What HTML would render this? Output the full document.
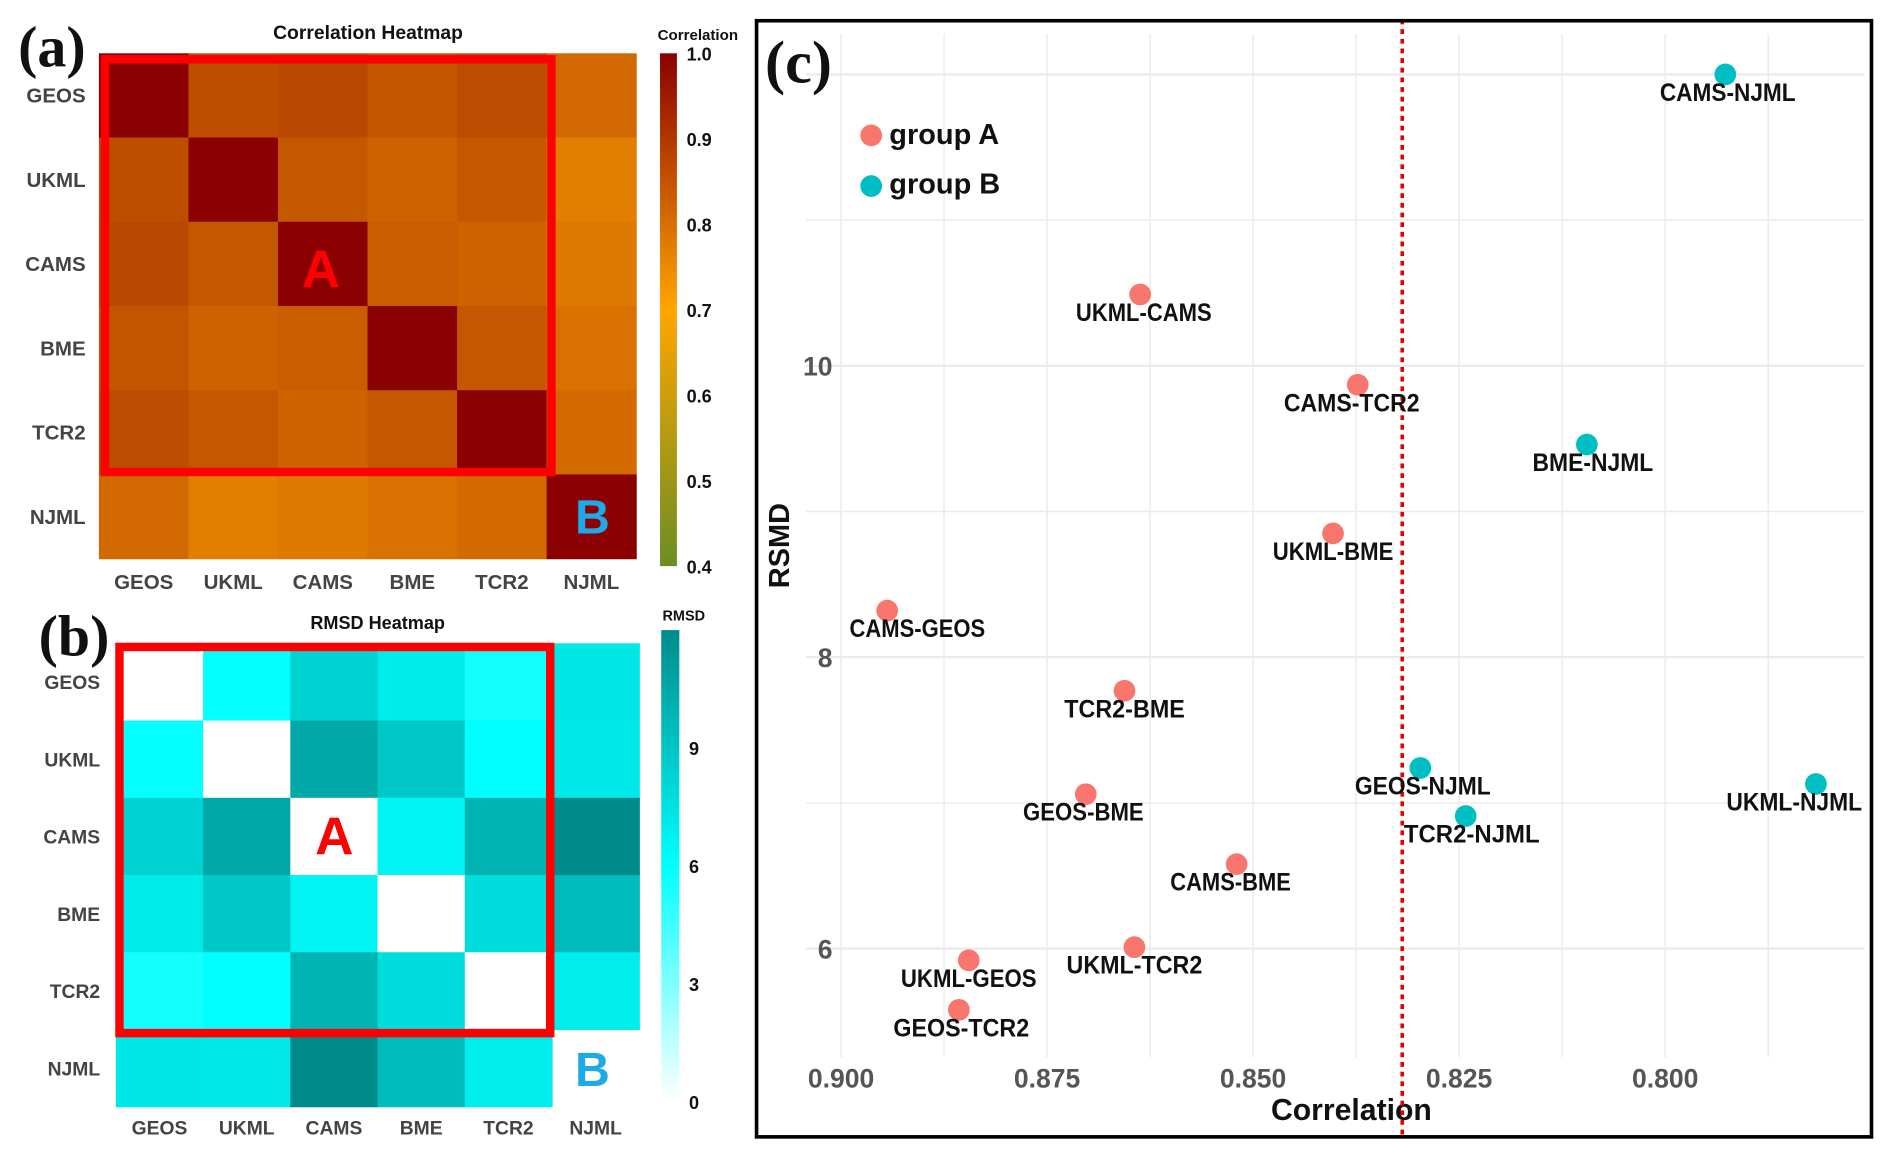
<!DOCTYPE html>
<html><head><meta charset="utf-8"><style>
html,body{margin:0;padding:0;background:#fff;}
svg{display:block;font-family:"Liberation Sans",sans-serif;}
</style></head><body>
<svg id="fig" width="1892" height="1160" viewBox="0 0 1568 961" xmlns="http://www.w3.org/2000/svg">
<defs>
<linearGradient id="corrGrad" x1="0" y1="1" x2="0" y2="0">
<stop offset="0" stop-color="#6B8E23"/><stop offset="0.5" stop-color="#FFA500"/><stop offset="1" stop-color="#8B0000"/>
</linearGradient>
<linearGradient id="rmsdGrad" x1="0" y1="1" x2="0" y2="0">
<stop offset="0" stop-color="#ffffff"/><stop offset="0.5" stop-color="#00FFFF"/><stop offset="1" stop-color="#008B8B"/>
</linearGradient>
</defs>
<g id="pa"></g>
<g id="pb"></g>
<g id="pc"></g>
</svg>
<script>
const models = ["GEOS","UKML","CAMS","BME","TCR2","NJML"];
const pairNames = ["CAMS-NJML","UKML-CAMS","CAMS-TCR2","BME-NJML","UKML-BME","CAMS-GEOS","TCR2-BME","GEOS-NJML","UKML-NJML","GEOS-BME","TCR2-NJML","CAMS-BME","UKML-TCR2","UKML-GEOS","GEOS-TCR2"];
const pairCorr = [0.7927,0.8637,0.8373,0.8095,0.8403,0.8944,0.8656,0.8297,0.7817,0.8703,0.8242,0.852,0.8644,0.8845,0.8857];
const pairRmsd = [12.0,10.49,9.87,9.46,8.85,8.32,7.77,7.24,7.13,7.06,6.91,6.58,6.01,5.92,5.58];
const pairGroup = ["B","A","A","B","A","A","A","B","B","A","B","A","A","A","A"];
const labelDx = [2,3,-5,5,0,25,0,2,-18,-2,5,-5,0,0,2];
const xTicks = [0.900,0.875,0.850,0.825,0.800];
const yTicks = [6,8,10];
const corrTicks = [0.4,0.5,0.6,0.7,0.8,0.9,1.0];
const rmsdTicks = [0,3,6,9];
const threshold = 0.8319;

const NS="http://www.w3.org/2000/svg";
function mk(parent,tag,attrs,text){const e=document.createElementNS(NS,tag);for(const k in attrs)e.setAttribute(k,attrs[k]);if(text!==undefined)e.textContent=text;parent.appendChild(e);return e;}
function lookup(a,b,arr,diag){if(a===b)return diag;const i=pairNames.findIndex(p=>p===a+"-"+b||p===b+"-"+a);return arr[i];}
function lerp(c1,c2,t){const p=h=>[1,3,5].map(i=>parseInt(h.substr(i,2),16));const a=p(c1),b=p(c2);return "rgb("+a.map((v,i)=>Math.round(v+(b[i]-v)*t)).join(",")+")";}
function corrColor(v){const t=(v-0.4)/0.6;if(t<0.5)return lerp("#6B8E23","#FFA500",t/0.5);if(t<0.97)return lerp("#FFA500","#9A2000",(t-0.5)/0.47);return "#8B0000";}
function rmsdColor(v){const t=v/12;return t<0.5?lerp("#ffffff","#00FFFF",t/0.5):lerp("#00FFFF","#008B8B",Math.min(1,(t-0.5)/0.5));}
const lblStyle={"font-weight":"bold",fill:"#444","font-size":"17"};

// Panel A
(function(){
const g=document.getElementById("pa");
const x0=82,y0=44,cw=74.2,ch=69.8;
mk(g,"text",{x:15,y:55,"font-family":"Liberation Serif,serif","font-weight":"bold","font-size":"48",fill:"#111"},"(a)");
let t=mk(g,"text",{x:305,y:32,"text-anchor":"middle","font-weight":"bold","font-size":"16",fill:"#111"},"Correlation Heatmap");


models.forEach((r,ri)=>models.forEach((c,ci)=>{
const v=lookup(r,c,pairCorr,1.0);
const e=mk(g,"rect",{x:x0+ci*cw,y:y0+ri*ch,width:cw+0.5,height:ch+0.5,fill:corrColor(v)});


}));
models.forEach((m,i)=>{
const a=mk(g,"text",Object.assign({x:71,y:y0+i*ch+ch/2+6,"text-anchor":"end"},lblStyle),m);


const b=mk(g,"text",Object.assign({x:x0+i*cw+cw/2,y:488,"text-anchor":"middle"},lblStyle),m);


});
const box=mk(g,"rect",{x:87,y:49,width:370,height:342,fill:"none",stroke:"#ff0000","stroke-width":"7"});


mk(g,"text",{x:266,y:238,"text-anchor":"middle","font-weight":"bold","font-size":"44",fill:"#ff0000"},"A");
mk(g,"text",{x:491,y:442,"text-anchor":"middle","font-weight":"bold","font-size":"40",fill:"#1ea9e8"},"B");
const cb=mk(g,"rect",{x:547,y:44,width:14,height:425,fill:"url(#corrGrad)"});


mk(g,"text",{x:545,y:33,"font-weight":"bold","font-size":"12.5",fill:"#111"},"Correlation");
corrTicks.forEach(v=>{const y=469-(v-0.4)/0.6*425;
mk(g,"text",{x:569,y:y+6,"font-weight":"bold","font-size":"15",fill:"#111"},v.toFixed(1));});
})();

// Panel B
(function(){
const g=document.getElementById("pb");
const x0=96,y0=533,cw=72.3,ch=64;
mk(g,"text",{x:32,y:543,"font-family":"Liberation Serif,serif","font-weight":"bold","font-size":"48",fill:"#111"},"(b)");
mk(g,"text",{x:313,y:521,"text-anchor":"middle","font-weight":"bold","font-size":"15",fill:"#111"},"RMSD Heatmap");
models.forEach((r,ri)=>models.forEach((c,ci)=>{
if(r===c&&r==="NJML")return;
const v=lookup(r,c,pairRmsd,0);
const e=mk(g,"rect",{x:x0+ci*cw,y:y0+ri*ch,width:cw+0.5,height:ch+0.5,fill:rmsdColor(v)});


}));
const s2={"font-weight":"bold",fill:"#444","font-size":"16"};
models.forEach((m,i)=>{
const a=mk(g,"text",Object.assign({x:83,y:y0+i*ch+ch/2+6,"text-anchor":"end"},s2),m);


const b=mk(g,"text",Object.assign({x:x0+i*cw+cw/2,y:940,"text-anchor":"middle"},s2),m);


});
const box=mk(g,"rect",{x:99,y:536,width:357,height:320,fill:"none",stroke:"#ff0000","stroke-width":"7"});


mk(g,"text",{x:277,y:708,"text-anchor":"middle","font-weight":"bold","font-size":"44",fill:"#ff0000"},"A");
mk(g,"text",{x:491,y:900,"text-anchor":"middle","font-weight":"bold","font-size":"40",fill:"#1ea9e8"},"B");
const cb=mk(g,"rect",{x:548,y:522,width:15,height:391,fill:"url(#rmsdGrad)"});


mk(g,"text",{x:549,y:514,"font-weight":"bold","font-size":"12",fill:"#111"},"RMSD");
rmsdTicks.forEach(v=>{const y=913-v*32.6;
mk(g,"text",{x:571,y:y+6,"font-weight":"bold","font-size":"15",fill:"#111"},String(v));});
})();

// Panel C
(function(){
const g=document.getElementById("pc");
const X=v=>697+(0.900-v)*6830;
const Y=v=>303-(v-10)*120.75;
const L=668,R=1545,T=28,B=876;
for(let v=0.9125;v>0.77;v-=0.0125){const x=X(v);if(x<L||x>R)continue;
mk(g,"line",{x1:x,x2:x,y1:T,y2:B,stroke:"#ebebeb","stroke-width":"1.2"});}
for(let v=5;v<=12;v+=1){const y=Y(v);if(y<T||y>B)continue;
mk(g,"line",{x1:L,x2:R,y1:y,y2:y,stroke:"#ebebeb","stroke-width":v%2===0?"2":"1.2"});}
mk(g,"text",{x:634,y:68,"font-family":"Liberation Serif,serif","font-weight":"bold","font-size":"50",fill:"#111"},"(c)");
xTicks.forEach(v=>{const t=mk(g,"text",{x:X(v),y:901,"text-anchor":"middle","font-weight":"bold","font-size":"22",fill:"#555"},v.toFixed(3));

});
yTicks.forEach(v=>{const t=mk(g,"text",{x:690,y:Y(v)+8,"text-anchor":"end","font-weight":"bold","font-size":"22",fill:"#555"},String(v));

});
const xt=mk(g,"text",{x:1120,y:928,"text-anchor":"middle","font-weight":"bold","font-size":"25",fill:"#111"},"Correlation");


const yt=mk(g,"text",{x:0,y:0,transform:"translate(654,452) rotate(-90)","text-anchor":"middle","font-weight":"bold","font-size":"24",fill:"#111"},"RSMD");


const th=mk(g,"line",{x1:X(threshold),x2:X(threshold),y1:16,y2:942,stroke:"#e00000","stroke-width":"3","stroke-dasharray":"4,4"});


pairNames.forEach((n,i)=>{
const cx=X(pairCorr[i]),cy=Y(pairRmsd[i]);
const c=mk(g,"circle",{cx:cx,cy:cy,r:9,fill:pairGroup[i]==="A"?"#F8766D":"#00BFC4"});


const t=mk(g,"text",{x:cx+labelDx[i],y:cy+22,"text-anchor":"middle","font-weight":"bold","font-size":"21",fill:"#111",textLength:n.length*12.5,lengthAdjust:"spacingAndGlyphs"},n);


});
const lg=mk(g,"g",{});


mk(lg,"circle",{cx:722,cy:112,r:9,fill:"#F8766D"});
mk(lg,"text",{x:737,y:119,"font-weight":"bold","font-size":"24",fill:"#111"},"group A");
mk(lg,"circle",{cx:722,cy:154,r:9,fill:"#00BFC4"});
mk(lg,"text",{x:737,y:160,"font-weight":"bold","font-size":"24",fill:"#111"},"group B");
const fr=mk(g,"rect",{x:627,y:17,width:924,height:925,fill:"none",stroke:"#000","stroke-width":"3"});


})();
</script>
</body></html>
